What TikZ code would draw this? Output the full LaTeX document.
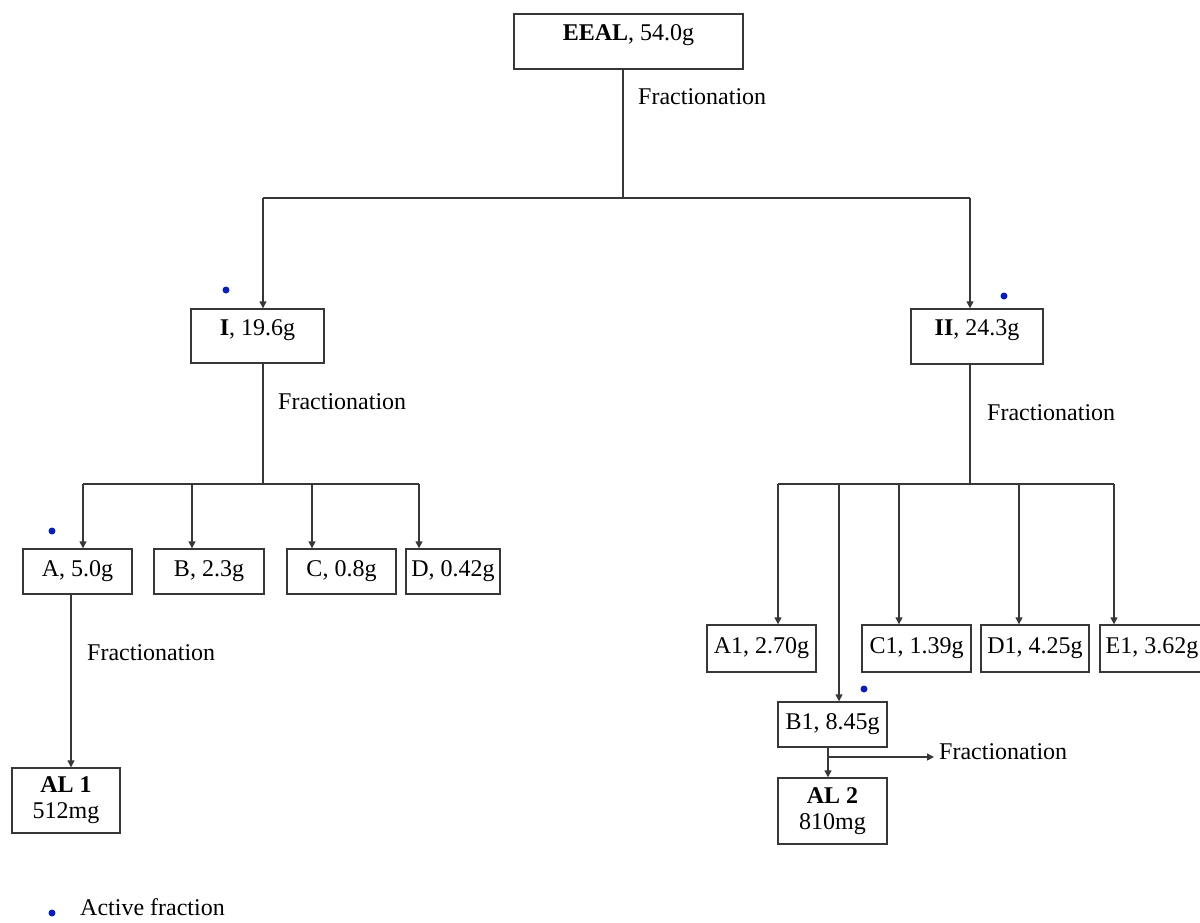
\documentclass[tikz,border=0pt]{standalone}
\usepackage{fontspec}
\setmainfont{Liberation Serif}
\usetikzlibrary{arrows.meta}
\definecolor{linec}{RGB}{55,55,55}
\definecolor{dotblue}{RGB}{10,30,185}
\newcommand\fsz{\fontsize{24}{26}\selectfont}
\begin{document}
\begin{tikzpicture}[x=1pt,y=-1pt,
  box/.style={draw=linec, line width=1.4pt, inner sep=0pt, font=\fsz, align=center},
  toplab/.style={label={[anchor=north,inner sep=0pt,yshift=-11pt,font=\fsz]north:#1}},
  ln/.style={draw=linec, line width=1.4pt},
  arr/.style={draw=linec, line width=1.4pt, -{Triangle[length=7pt,width=7pt]}},
  lab/.style={font=\fsz, anchor=west, inner sep=0pt},
  activedot/.style={circle, fill=dotblue, inner sep=0pt, minimum size=7pt}]
\useasboundingbox (0,0) rectangle (1200,922);
% boxes
\node[box, minimum width=229pt, minimum height=55pt, toplab={\textbf{EEAL}, 54.0g}] (eeal) at (628.5,41.5) {};
\node[box, minimum width=133pt, minimum height=54pt, toplab={\textbf{I}, 19.6g}] (I) at (257.5,336) {};
\node[box, minimum width=132pt, minimum height=55pt, toplab={\textbf{II}, 24.3g}] (II) at (977,336.5) {};
\node[box, minimum width=109pt, minimum height=45pt] (A) at (77.5,571.5) {A, 5.0g};
\node[box, minimum width=110pt, minimum height=45pt] (B) at (209,571.5) {B, 2.3g};
\node[box, minimum width=109pt, minimum height=45pt] (C) at (341.5,571.5) {C, 0.8g};
\node[box, minimum width=94pt, minimum height=45pt] (D) at (453,571.5) {D, 0.42g};
\node[box, minimum width=109pt, minimum height=47pt] (A1) at (761.5,648.5) {A1, 2.70g};
\node[box, minimum width=109pt, minimum height=47pt] (C1) at (916.5,648.5) {C1, 1.39g};
\node[box, minimum width=108pt, minimum height=47pt] (D1) at (1035,648.5) {D1, 4.25g};
\node[box, minimum width=104pt, minimum height=47pt] (E1) at (1152,648.5) {E1, 3.62g};
\node[box, minimum width=109pt, minimum height=45pt] (B1) at (832.5,724.5) {B1, 8.45g};
\node[box, minimum width=108pt, minimum height=65pt] (AL1) at (66,800.5) {\textbf{AL 1}\\512mg};
\node[box, minimum width=109pt, minimum height=66pt] (AL2) at (832.5,811) {\textbf{AL 2}\\810mg};
% labels
\node[lab] (fr1) at (638,97) {Fractionation};
\node[lab] (fr2) at (278,402) {Fractionation};
\node[lab] (fr3) at (987,413) {Fractionation};
\node[lab] (fr4) at (87,653) {Fractionation};
\node[lab] (fr5) at (939,752) {Fractionation};
% active dots
\node[activedot] (dI) at (226,290) {};
\node[activedot] (dII) at (1004,296) {};
\node[activedot] (dA) at (52,531) {};
\node[activedot] (dB1) at (864,689) {};
\node[activedot] (dleg) at (52,913) {};
\node[lab] (leg) at (80,907) {Active fraction};
% junction coordinates
\coordinate (j0) at (623,198);
\coordinate (jL) at (263,198);
\coordinate (jR) at (970,198);
\coordinate (k0) at (263,484);
\coordinate (kA) at (83,484);
\coordinate (kB) at (192,484);
\coordinate (kC) at (312,484);
\coordinate (kD) at (419,484);
\coordinate (m0) at (71,594);
\coordinate (n0) at (970,484);
\coordinate (nA) at (778,484);
\coordinate (nB) at (839,484);
\coordinate (nC) at (899,484);
\coordinate (nD) at (1019,484);
\coordinate (nE) at (1114,484);
\coordinate (p0) at (828,757);
% connectors
\draw[ln] (eeal.south -| j0) -- (j0);
\draw[ln] (jL) -- (jR);
\draw[arr] (jL) -- (jL |- I.north);
\draw[arr] (jR) -- (jR |- II.north);
\draw[ln] (k0 |- I.south) -- (k0);
\draw[ln] (kA) -- (kD);
\draw[arr] (kA) -- (kA |- A.north);
\draw[arr] (kB) -- (kB |- B.north);
\draw[arr] (kC) -- (kC |- C.north);
\draw[arr] (kD) -- (kD |- D.north);
\draw[arr] (m0 |- A.south) -- (m0 |- AL1.north);
\draw[ln] (n0 |- II.south) -- (n0);
\draw[ln] (nA) -- (nE);
\draw[arr] (nA) -- (nA |- A1.north);
\draw[arr] (nB) -- (nB |- B1.north);
\draw[arr] (nC) -- (nC |- C1.north);
\draw[arr] (nD) -- (nD |- D1.north);
\draw[arr] (nE) -- (nE |- E1.north);
\draw[ln] (p0 |- B1.south) -- (p0);
\draw[arr] (p0) -- (p0 |- AL2.north);
\draw[arr, shorten >=5pt] (p0) -- (p0 -| fr5.west);
\end{tikzpicture}
\end{document}
